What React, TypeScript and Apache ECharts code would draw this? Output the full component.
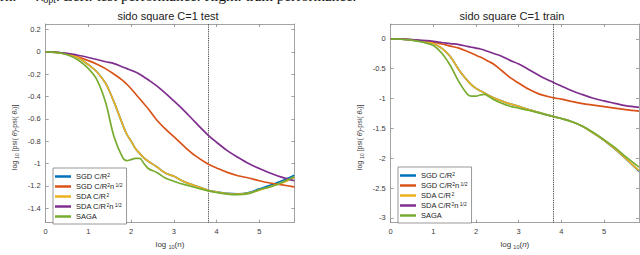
import React, { useEffect, useRef } from "react";
import * as echarts from "echarts";

// ---- data ----
const X = [0, 0.25, 0.5, 0.75, 1, 1.2, 1.4, 1.6, 1.8, 1.9, 2.0, 2.1, 2.2, 2.3, 2.4, 2.6, 2.8, 3, 3.25, 3.5, 3.8, 4, 4.25, 4.5, 4.75, 5, 5.25, 5.5, 5.82];
const X_MAX = 5.82;
const X_TICKS = [0, 1, 2, 3, 4, 5];
const VLINE_X = 3.81;

const SERIES_NAMES = ["SGD C/R^2", "SGD C/R^2n^1/2", "SDA C/R^2", "SDA C/R^2n^1/2", "SAGA"];
const COLORS = ["#0072BD", "#D95319", "#EDB120", "#7E2F8E", "#77AC30"];

// test (left)
const testSGD = [0, -0.005, -0.02, -0.05, -0.115, -0.18, -0.28, -0.45, -0.65, -0.74, -0.8, -0.865, -0.91, -0.95, -0.98, -1.03, -1.085, -1.115, -1.165, -1.2, -1.24, -1.255, -1.268, -1.272, -1.26, -1.228, -1.196, -1.16, -1.105];
const testSGDn = [0, -0.005, -0.02, -0.045, -0.078, -0.11, -0.15, -0.2, -0.255, -0.29, -0.33, -0.375, -0.42, -0.465, -0.51, -0.61, -0.69, -0.76, -0.85, -0.93, -1.005, -1.04, -1.08, -1.11, -1.13, -1.155, -1.175, -1.19, -1.21];
const testSDA = [0, -0.005, -0.02, -0.05, -0.115, -0.18, -0.28, -0.45, -0.65, -0.74, -0.8, -0.865, -0.91, -0.95, -0.98, -1.03, -1.085, -1.115, -1.165, -1.2, -1.24, -1.255, -1.27, -1.275, -1.265, -1.24, -1.21, -1.18, -1.125];
const testSDAn = [0, -0.003, -0.012, -0.03, -0.05, -0.068, -0.088, -0.105, -0.135, -0.15, -0.165, -0.18, -0.2, -0.225, -0.25, -0.305, -0.37, -0.44, -0.53, -0.63, -0.745, -0.81, -0.885, -0.945, -1.0, -1.045, -1.085, -1.12, -1.155];
const testSAGA = [0, -0.005, -0.025, -0.07, -0.15, -0.25, -0.45, -0.76, -0.945, -0.975, -0.965, -0.955, -0.955, -1.0, -1.045, -1.08, -1.13, -1.16, -1.19, -1.215, -1.245, -1.26, -1.275, -1.28, -1.27, -1.235, -1.21, -1.175, -1.12];

// train (right)
const trainSGD = [0, -0.005, -0.02, -0.04, -0.076, -0.16, -0.3, -0.52, -0.7, -0.775, -0.83, -0.87, -0.905, -0.95, -0.985, -1.04, -1.09, -1.13, -1.19, -1.24, -1.3, -1.335, -1.39, -1.47, -1.58, -1.7, -1.845, -2.005, -2.22];
const trainSGDn = [0, -0.005, -0.015, -0.035, -0.055, -0.085, -0.12, -0.155, -0.21, -0.24, -0.275, -0.305, -0.34, -0.38, -0.417, -0.53, -0.65, -0.74, -0.85, -0.93, -0.985, -1.01, -1.05, -1.085, -1.11, -1.135, -1.16, -1.185, -1.21];
const trainSDA = [0, -0.005, -0.02, -0.04, -0.076, -0.16, -0.3, -0.52, -0.7, -0.775, -0.83, -0.87, -0.905, -0.95, -0.985, -1.04, -1.09, -1.13, -1.19, -1.24, -1.3, -1.335, -1.39, -1.47, -1.58, -1.7, -1.84, -2.0, -2.21];
const trainSDAn = [0, -0.003, -0.01, -0.025, -0.04, -0.06, -0.078, -0.095, -0.125, -0.14, -0.155, -0.17, -0.19, -0.215, -0.24, -0.29, -0.36, -0.42, -0.52, -0.62, -0.725, -0.79, -0.87, -0.935, -0.995, -1.04, -1.08, -1.12, -1.147];
const trainSAGA = [0, -0.005, -0.02, -0.055, -0.11, -0.24, -0.45, -0.72, -0.93, -0.96, -0.958, -0.94, -0.93, -0.965, -1.01, -1.08, -1.13, -1.16, -1.2, -1.245, -1.3, -1.335, -1.39, -1.465, -1.57, -1.69, -1.82, -1.97, -2.15];

const TEST_Y_TICKS = [0.2, 0, -0.2, -0.4, -0.6, -0.8, -1, -1.2, -1.4];
const TEST_Y_MIN = -1.53;
const TEST_Y_MAX = 0.25;
const TRAIN_Y_TICKS = [0, -0.5, -1, -1.5, -2, -2.5, -3];
const TRAIN_Y_MIN = -3.08;
const TRAIN_Y_MAX = 0.25;

const TITLES = ["sido square C=1 test", "sido square C=1 train"];

const FONT = "Liberation Sans, Arial, Helvetica, sans-serif";
const SERIF = "Liberation Serif, Times New Roman, serif";
const AXIS_COLOR = "#8c8c8c";
const LABEL_COLOR = "#3a3a3a";

const LEGEND_RICH: Record<string, string> = {
  "SGD C/R^2": "{t|SGD C/R}{p|2}",
  "SGD C/R^2n^1/2": "{t|SGD C/R}{p|2}{t|n}{p| 1/2}",
  "SDA C/R^2": "{t|SDA C/R}{p|2}",
  "SDA C/R^2n^1/2": "{t|SDA C/R}{p|2}{t|n}{p| 1/2}",
  SAGA: "{t|SAGA}",
};

function fmt(v: number) {
  return String(Math.round(v * 10) / 10);
}

function xAxesFor(gridIndex: number, italicN: boolean) {
  const common = {
    type: "value",
    gridIndex,
    min: 0,
    max: X_MAX,
    splitLine: { show: false },
    axisLine: { show: true, onZero: false, lineStyle: { color: AXIS_COLOR, width: 0.8 } },
    axisTick: { show: true, inside: true, length: 3, customValues: X_TICKS, lineStyle: { color: AXIS_COLOR, width: 0.8 } },
  };
  return [
    {
      ...common,
      position: "bottom",
      axisLabel: { show: true, customValues: X_TICKS, fontSize: 7.5, color: LABEL_COLOR, fontFamily: FONT, margin: 5, formatter: fmt },
      name: "{a|log }{s|10}{a|(}{n|n}{a|)}",
      nameLocation: "middle",
      nameGap: 16,
      nameTextStyle: {
        color: LABEL_COLOR,
        fontFamily: FONT,
        rich: {
          a: { fontSize: 8, lineHeight: 11, fontFamily: FONT, color: LABEL_COLOR },
          n: { fontSize: 8, lineHeight: 11, fontFamily: FONT, color: LABEL_COLOR, fontStyle: italicN ? "italic" : "normal" },
          s: { fontSize: 5.5, lineHeight: 6, verticalAlign: "bottom", fontFamily: FONT, color: LABEL_COLOR },
        },
      },
    },
    { ...common, position: "top", axisLabel: { show: false } },
  ];
}

function yAxesFor(gridIndex: number, min: number, max: number, ticks: number[]) {
  const common = {
    type: "value",
    gridIndex,
    min,
    max,
    splitLine: { show: false },
    axisLine: { show: true, onZero: false, lineStyle: { color: AXIS_COLOR, width: 0.8 } },
    axisTick: { show: true, inside: true, length: 3, customValues: ticks, lineStyle: { color: AXIS_COLOR, width: 0.8 } },
  };
  return [
    {
      ...common,
      position: "left",
      axisLabel: { show: true, customValues: ticks, fontSize: 7.5, color: LABEL_COLOR, fontFamily: FONT, margin: 5, formatter: fmt },
      name: "{a|log }{s|10}{a| [psi( }{i|θ}{a|)-psi( }{i|θ}{s|*}{a|)]}",
      nameLocation: "middle",
      nameRotate: 90,
      nameGap: 26,
      nameTextStyle: {
        color: LABEL_COLOR,
        fontFamily: FONT,
        padding: [0, 28, 0, 0],
        rich: {
          a: { fontSize: 7, lineHeight: 10, fontFamily: FONT, color: LABEL_COLOR },
          i: { fontSize: 7, lineHeight: 10, fontFamily: FONT, color: LABEL_COLOR, fontStyle: "italic" },
          s: { fontSize: 5, lineHeight: 5, verticalAlign: "bottom", fontFamily: FONT, color: LABEL_COLOR },
        },
      },
    },
    { ...common, position: "right", axisLabel: { show: false } },
  ];
}

function seriesFor(values: number[][], xAxisIndex: number, yAxisIndex: number) {
  return values.map((arr, k) => {
    const s: any = {
      type: "line",
      name: SERIES_NAMES[k],
      xAxisIndex,
      yAxisIndex,
      data: X.map((x, i) => [x, arr[i]]),
      smooth: 0.35,
      showSymbol: false,
      symbol: "none",
      lineStyle: { color: COLORS[k], width: 1.7 },
      itemStyle: { color: COLORS[k] },
      z: 2 + k,
    };
    if (k === values.length - 1) {
      s.markLine = {
        silent: true,
        symbol: "none",
        label: { show: false },
        lineStyle: { type: "dotted", color: "#222", width: 0.9 },
        data: [{ xAxis: VLINE_X }],
        z: 1,
      };
    }
    return s;
  });
}

function legendFor(left: number, top: number) {
  return {
    orient: "vertical",
    left,
    top,
    data: SERIES_NAMES,
    icon: "rect",
    itemWidth: 16,
    itemHeight: 2.5,
    itemGap: 1,
    selectedMode: false,
    padding: [4, 4, 3, 2],
    borderColor: "#555",
    borderWidth: 0.6,
    borderRadius: 0,
    backgroundColor: "#fff",
    formatter: (n: string) => LEGEND_RICH[n] || n,
    textStyle: {
      fontSize: 7.5,
      color: "#222",
      fontFamily: FONT,
      lineHeight: 9,
      rich: {
        t: { fontSize: 7.5, lineHeight: 9, fontFamily: FONT, color: "#222" },
        p: { fontSize: 5, lineHeight: 5, verticalAlign: "top", fontFamily: FONT, color: "#222" },
      },
    },
    z: 10,
  };
}

export default function App() {
  const ref = useRef<HTMLDivElement>(null);
  useEffect(() => {
    if (!ref.current) return;
    const chart = echarts.init(ref.current, null, { renderer: "svg" });
    chart.setOption({
      animation: false,
      backgroundColor: "#fff",
      title: [
        { text: TITLES[0], left: 163, top: 5, textAlign: "center", textStyle: { fontSize: 11, fontWeight: "normal", color: "#222", fontFamily: FONT } },
        { text: TITLES[1], left: 507, top: 5, textAlign: "center", textStyle: { fontSize: 11, fontWeight: "normal", color: "#222", fontFamily: FONT } },
      ],
      graphic: [
        {
          type: "text",
          left: 0,
          top: -12,
          style: {
            text: "{a|rn.  = λ}{s|opt}{a|. Left: test performance. Right: train performance.}",
            rich: {
              a: { fontSize: 15, fontFamily: SERIF, fill: "#111", lineHeight: 17 },
              s: { fontSize: 10, fontFamily: SERIF, fill: "#111", lineHeight: 10, verticalAlign: "bottom" },
            },
          },
          z: 0,
        },
      ],
      grid: [
        { left: 45.7, right: 345.7, top: 24, bottom: 26, containLabel: false },
        { left: 390.7, right: 1, top: 24, bottom: 26, containLabel: false },
      ],
      xAxis: [...xAxesFor(0, false), ...xAxesFor(1, true)],
      yAxis: [
        ...yAxesFor(0, TEST_Y_MIN, TEST_Y_MAX, TEST_Y_TICKS),
        ...yAxesFor(1, TRAIN_Y_MIN, TRAIN_Y_MAX, TRAIN_Y_TICKS),
      ],
      legend: [legendFor(53, 168), legendFor(398, 167)],
      series: [
        ...seriesFor([testSGD, testSGDn, testSDA, testSDAn, testSAGA], 0, 0),
        ...seriesFor([trainSGD, trainSGDn, trainSDA, trainSDAn, trainSAGA], 2, 2),
      ],
    });
    return () => chart.dispose();
  }, []);
  return <div ref={ref} style={{ position: "fixed", left: 0, top: 0, width: 640, height: 255 }} />;
}
